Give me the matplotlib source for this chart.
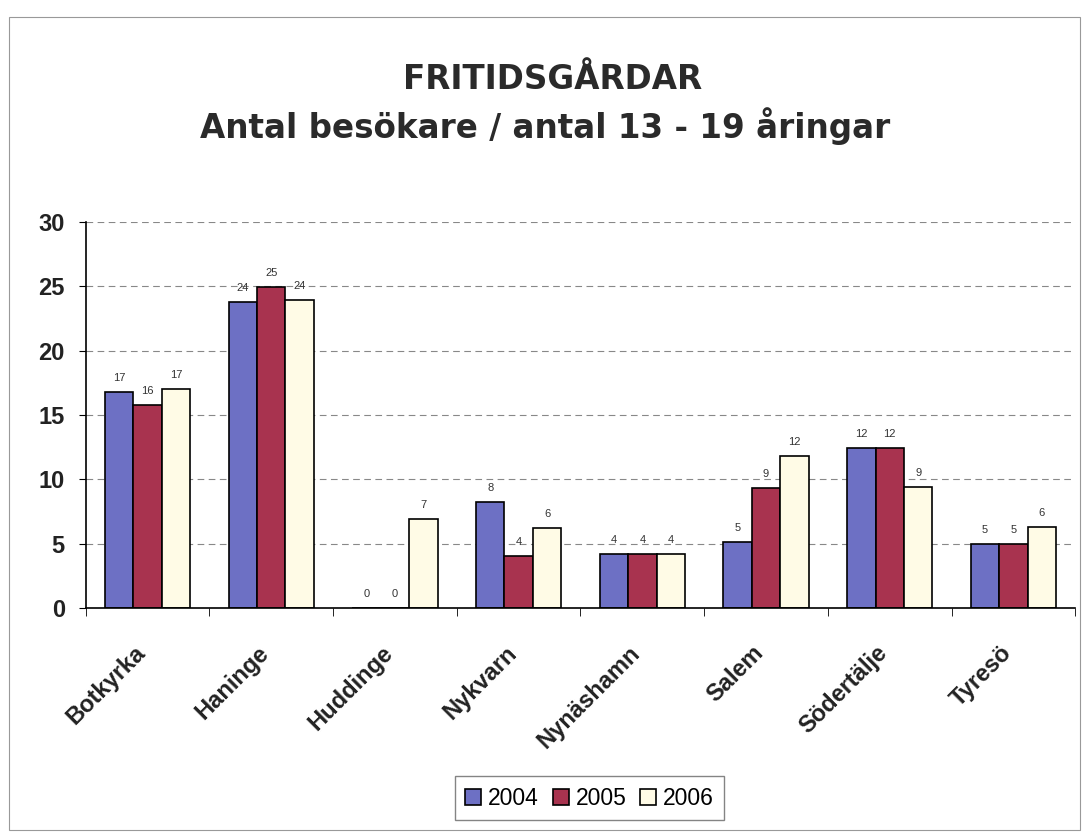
import matplotlib
matplotlib.use("Agg")
import matplotlib.pyplot as plt
import matplotlib.transforms as mtransforms
from matplotlib.patches import Rectangle
import numpy as np

plt.rcParams['font.family'] = ['Liberation Sans', 'DejaVu Sans']

kommuner = ["Botkyrka", "Haninge", "Huddinge", "Nykvarn", "Nynäshamn",
            "Salem", "Södertälje", "Tyresö"]
v2004 = [16.8, 23.8, 0, 8.2, 4.2, 5.1, 12.4, 5.0]
v2005 = [15.8, 24.9, 0, 4.05, 4.2, 9.3, 12.4, 5.0]
v2006 = [17.0, 23.9, 6.9, 6.2, 4.2, 11.8, 9.4, 6.3]
years = ["2004", "2005", "2006"]
colors = ["#6d70c4", "#a8334f", "#fffbe6"]

fig = plt.figure(figsize=(10.84, 8.34), dpi=100)
fig.patches.append(Rectangle((0.008, 0.005), 0.988, 0.975, transform=fig.transFigure,
                             fill=False, edgecolor="#999999", linewidth=0.8))
ax = fig.add_axes([0.079, 0.271, 0.913, 0.463])

x = np.arange(len(kommuner))
w = 0.23
for i, (vals, col, yr) in enumerate(zip([v2004, v2005, v2006], colors, years)):
    bars = ax.bar(x + (i - 1) * w, vals, w, color=col, edgecolor="black",
                  linewidth=1.2, label=yr)
    for b, v in zip(bars, vals):
        ax.text(b.get_x() + b.get_width() / 2, v + 0.7, f"{v:.0f}",
                ha="center", va="bottom", fontsize=8, color="#333333")

ax.set_xlim(-0.5, len(kommuner) - 0.5)
ax.set_ylim(0, 30)
ax.set_yticks(range(0, 31, 5))
ax.yaxis.grid(True, linestyle=(0, (6, 4)), color="#888888", linewidth=0.8)
ax.set_axisbelow(True)
ax.spines["top"].set_visible(False)
ax.spines["right"].set_visible(False)
ax.spines["left"].set_linewidth(1.2)
ax.spines["bottom"].set_linewidth(1.2)

ax.set_xticks(x)
ax.set_xticklabels(kommuner, rotation=45, ha="right", rotation_mode="anchor",
                   fontsize=17, fontweight="bold", color="#222222")
ax.tick_params(axis="x", length=0, pad=24)
shift = mtransforms.ScaledTranslation(-10 / 72, 0, fig.dpi_scale_trans)
for t in ax.get_xticklabels():
    t.set_transform(t.get_transform() + shift)
ax.set_xticks(np.arange(-0.5, len(kommuner), 1), minor=True)
ax.tick_params(axis="x", which="minor", length=6, direction="out")
ax.tick_params(axis="y", labelsize=17, length=5, direction="out", pad=10,
               labelcolor="#222222")
for t in ax.get_yticklabels():
    t.set_fontweight("bold")

fig.text(0.51, 0.893, "FRITIDSGÅRDAR", ha="center", va="baseline",
         fontsize=23.5, fontweight="bold", color="#2a2a2a", family="DejaVu Sans")
fig.text(0.503, 0.835, "Antal besökare / antal 13 - 19 åringar", ha="center",
         va="baseline", fontsize=23.5, fontweight="bold", color="#2a2a2a",
         family="DejaVu Sans")

fig.legend(loc="center", bbox_to_anchor=(0.544, 0.043), ncol=3, fontsize=16.5,
           frameon=True, fancybox=False, edgecolor="#666666", handlelength=0.7,
           handleheight=0.7, handletextpad=0.3, columnspacing=0.6,
           borderpad=0.45)

fig.savefig("out.png", dpi=100)
